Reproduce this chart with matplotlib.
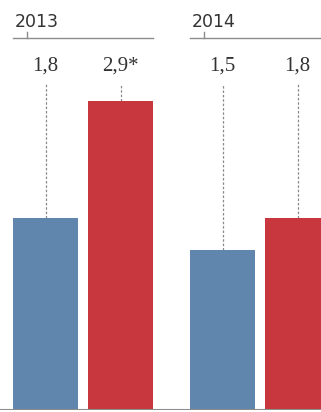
import numpy as np
import matplotlib.pyplot as plt

years = ["2013", "2014"]
blue_vals = [1.8, 1.5]
red_vals = [2.9, 1.8]
blue_labels = ["1,8", "1,5"]
red_labels = ["2,9*", "1,8"]

BLUE = "#6186ae"
RED = "#c8363e"
TEXT = "#333333"

my_dpi = 100
fig = plt.figure(figsize=(321 / my_dpi, 412 / my_dpi), dpi=my_dpi)
ax = fig.add_axes([0, 2 / 412, 1, 410 / 412])

# layout in pixel-ish x units, values on y
bar_w = 65
group_step = 177
pair_step = 75
first_center = 45.5
ppu = 106.6  # pixels per unit on y

ax.set_xlim(0, 321)
ax.set_ylim(0, 410 / ppu)

label_y = 344 / ppu
dash_top = 326 / ppu
line_y = 372 / ppu
year_y = 383 / ppu
tick_top = 378 / ppu

for g, year in enumerate(years):
    xb = first_center + g * group_step
    xr = xb + pair_step
    ax.bar(xb, blue_vals[g], width=bar_w, color=BLUE, zorder=2)
    ax.bar(xr, red_vals[g], width=bar_w, color=RED, zorder=2)

    for x, v, lab in [(xb, blue_vals[g], blue_labels[g]), (xr, red_vals[g], red_labels[g])]:
        ax.plot([x, x], [v, dash_top], color="#8a8a8a", lw=0.9, ls=(0, (2, 1.5)), zorder=1)
        ax.text(x, label_y, lab, ha="center", va="center", fontsize=15,
                family="Liberation Serif", color=TEXT)

    left = xb - bar_w / 2
    right = xr + bar_w / 2 if g == 0 else 340
    ax.plot([left, right], [line_y, line_y], color="#8c8c8c", lw=1.0, clip_on=False)
    ax.plot([left + 14, left + 14], [line_y, tick_top], color="#8c8c8c", lw=1.0)
    ax.text(left + 1.5, year_y, year, ha="left", va="baseline", fontsize=12.5,
            family="DejaVu Sans", color=TEXT)

ax.axhline(0, color="#8c8c8c", lw=1.5, zorder=3)

for s in ax.spines.values():
    s.set_visible(False)
ax.set_xticks([])
ax.set_yticks([])

plt.savefig("out.png", dpi=my_dpi)
